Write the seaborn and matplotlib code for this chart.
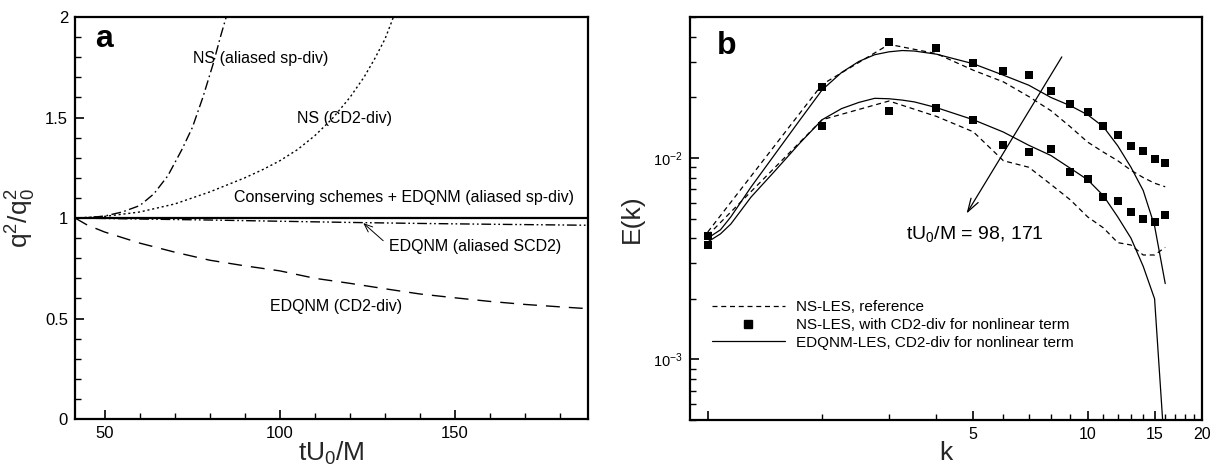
import matplotlib
matplotlib.use("Agg")
import matplotlib.pyplot as plt
from matplotlib.lines import Line2D
from matplotlib.ticker import MultipleLocator, FixedLocator, FixedFormatter, NullFormatter, LogLocator
import numpy as np
import pandas as pd
import seaborn as sns

# ---------------- Panel a data ----------------
t_ns_sp = [41.5, 46, 50, 55, 60, 64, 68, 72, 75, 78, 81, 83, 85, 86.5]
q_ns_sp = [1.0, 1.003, 1.01, 1.03, 1.062, 1.12, 1.21, 1.34, 1.45, 1.60, 1.77, 1.90, 2.02, 2.12]

t_ns_cd2 = [41.5, 50, 60, 70, 80, 90, 95, 100, 105, 110, 115, 120, 124, 127, 130, 132, 134]
q_ns_cd2 = [1.0, 1.008, 1.03, 1.07, 1.13, 1.20, 1.24, 1.285, 1.34, 1.41, 1.495, 1.60, 1.70, 1.79,
            1.89, 1.98, 2.08]

t_cons = [41.5, 188]
q_cons = [1.0, 1.0]

t_scd2 = [41.5, 60, 80, 100, 120, 140, 160, 188]
q_scd2 = [1.0, 0.995, 0.99, 0.984, 0.978, 0.973, 0.969, 0.964]

t_edq_cd2 = [41.5, 45, 50, 60, 70, 80, 90, 100, 110, 120, 130, 140, 150, 160, 170, 180, 187]
q_edq_cd2 = [1.0, 0.965, 0.93, 0.875, 0.83, 0.79, 0.762, 0.737, 0.70, 0.675, 0.648, 0.622,
             0.603, 0.585, 0.570, 0.558, 0.55]

# ---------------- Panel b data ----------------
k_int = [1, 2, 3, 4, 5, 6, 7, 8, 9, 10, 11, 12, 13, 14, 15, 16]
ref_98 = [0.00429, 0.0232, 0.0367, 0.0330, 0.0273, 0.0239, 0.0202, 0.0172, 0.0143, 0.0120,
          0.0107, 0.0097, 0.0087, 0.0080, 0.0075, 0.0072]
ref_171 = [0.00413, 0.0155, 0.0192, 0.0161, 0.0135, 0.0097, 0.0090, 0.0074, 0.0062, 0.0051,
           0.0045, 0.0038, 0.0037, 0.0033, 0.0033, 0.0036]
cd2_98 = [0.00411, 0.0225, 0.0378, 0.0353, 0.0297, 0.0271, 0.0259, 0.0215, 0.0185, 0.0169,
          0.0144, 0.0130, 0.0115, 0.0108, 0.00987, 0.00946]
cd2_171 = [0.00369, 0.0144, 0.0171, 0.0177, 0.0155, 0.0116, 0.0107, 0.0111, 0.00853, 0.00784,
           0.00639, 0.00610, 0.00538, 0.00498, 0.00481, 0.00519]

k_edq = [1, 1.08, 1.15, 1.3, 1.5, 1.75, 2, 2.25, 2.5, 2.75, 3, 3.25, 3.5, 4, 5, 6, 7, 8, 9, 10,
         11, 12, 13, 14, 15, 16]
edq_98 = [0.0040, 0.0044, 0.0051, 0.00718, 0.0104, 0.0155, 0.0218, 0.0266, 0.0302, 0.0326,
          0.0337, 0.0342, 0.0340, 0.0328, 0.0294, 0.0258, 0.0230, 0.0200, 0.0182, 0.0164,
          0.0143, 0.0115, 0.0090, 0.0069, 0.0046, 0.00238]
edq_171 = [0.00383, 0.0042, 0.0047, 0.0064, 0.0086, 0.0119, 0.0155, 0.0176, 0.0189, 0.0198,
           0.0197, 0.0194, 0.0190, 0.0178, 0.0155, 0.01346, 0.01157, 0.0103, 0.0089, 0.0078,
           0.0065, 0.0051, 0.0040, 0.0029, 0.0020, 0.00032]

legend_labels = ["NS-LES, reference",
                 "NS-LES, with CD2-div for nonlinear term",
                 "EDQNM-LES, CD2-div for nonlinear term"]

# ---------------- Style ----------------
sns.set_theme(style="white")
plt.rcParams["font.family"] = ["Liberation Sans", "DejaVu Sans"]
plt.rcParams["mathtext.fontset"] = "custom"
plt.rcParams["mathtext.rm"] = "Liberation Sans"
plt.rcParams["mathtext.it"] = "Liberation Sans:italic"
plt.rcParams["mathtext.bf"] = "Liberation Sans:bold"
plt.rcParams["axes.edgecolor"] = "black"
plt.rcParams["text.color"] = "black"
plt.rcParams["xtick.color"] = "black"
plt.rcParams["ytick.color"] = "black"

fig = plt.figure(figsize=(12.18, 4.65), dpi=100)
axa = fig.add_axes([0.0616, 0.0989, 0.4212, 0.8645])
axb = fig.add_axes([0.5665, 0.0968, 0.4204, 0.8667])

K = "black"

# ---------------- Panel a ----------------
sns.lineplot(x=t_ns_sp, y=q_ns_sp, ax=axa, color=K, lw=1.0, linestyle=(0, (7, 2.5, 1.2, 2.5)),
             estimator=None, sort=False)
sns.lineplot(x=t_ns_cd2, y=q_ns_cd2, ax=axa, color=K, lw=1.0, linestyle=(0, (1.5, 2)),
             estimator=None, sort=False)
sns.lineplot(x=t_cons, y=q_cons, ax=axa, color=K, lw=1.6, estimator=None, sort=False)
sns.lineplot(x=t_scd2, y=q_scd2, ax=axa, color=K, lw=1.0,
             linestyle=(0, (7, 2, 1.2, 2, 1.2, 2)), estimator=None, sort=False)
sns.lineplot(x=t_edq_cd2, y=q_edq_cd2, ax=axa, color=K, lw=1.0, linestyle=(0, (10, 6.5)),
             estimator=None, sort=False)

axa.set_xlim(41.5, 188)
axa.set_ylim(0, 2)
axa.xaxis.set_major_locator(FixedLocator([50, 100, 150]))
axa.xaxis.set_minor_locator(MultipleLocator(10))
axa.yaxis.set_major_locator(FixedLocator([0, 0.5, 1, 1.5, 2]))
axa.yaxis.set_major_formatter(FixedFormatter(["0", "0.5", "1", "1.5", "2"]))
axa.yaxis.set_minor_locator(MultipleLocator(0.1))
axa.set_xlabel("tU$_0$/M", fontsize=19, labelpad=-1)
axa.set_ylabel("q$^2$/q$_0^2$", fontsize=19, labelpad=5)

fs_ann = 11.5
axa.text(75.3, 1.792, "NS (aliased sp-div)", fontsize=fs_ann, ha="left", va="center")
axa.text(104.9, 1.493, "NS (CD2-div)", fontsize=fs_ann, ha="left", va="center")
axa.text(87.0, 1.101, "Conserving schemes + EDQNM (aliased sp-div)", fontsize=fs_ann,
         ha="left", va="center")
axa.text(131.2, 0.860, "EDQNM (aliased SCD2)", fontsize=fs_ann, ha="left", va="center")
axa.text(97.2, 0.561, "EDQNM (CD2-div)", fontsize=fs_ann, ha="left", va="center")
axa.annotate("", xy=(123.8, 0.975), xytext=(129.5, 0.887),
             arrowprops=dict(arrowstyle="->,head_length=0.5,head_width=0.2", lw=0.7, color=K,
                             shrinkA=0, shrinkB=0))
axa.text(0.04, 0.926, "a", transform=axa.transAxes, fontsize=23, fontweight="bold",
         ha="left", va="baseline")

# ---------------- Panel b ----------------
sns.lineplot(x=k_int, y=ref_98, ax=axb, color=K, lw=0.9, linestyle=(0, (4, 3)),
             estimator=None, sort=False)
sns.lineplot(x=k_int, y=ref_171, ax=axb, color=K, lw=0.9, linestyle=(0, (4, 3)),
             estimator=None, sort=False)
sns.lineplot(x=k_edq, y=edq_98, ax=axb, color=K, lw=0.9, estimator=None, sort=False)
sns.lineplot(x=k_edq, y=edq_171, ax=axb, color=K, lw=0.9, estimator=None, sort=False)
sns.scatterplot(x=k_int, y=cd2_98, ax=axb, color=K, marker="s", s=30, linewidth=0)
sns.scatterplot(x=k_int, y=cd2_171, ax=axb, color=K, marker="s", s=30, linewidth=0)

axb.set_xscale("log")
axb.set_yscale("log")
axb.set_xlim(0.898, 20)
axb.set_ylim(5e-4, 0.0502)
axb.xaxis.set_major_locator(FixedLocator([1, 5, 10, 15, 20]))
axb.xaxis.set_major_formatter(FixedFormatter(["", "5", "10", "15", "20"]))
axb.xaxis.set_minor_locator(FixedLocator([2, 3, 4, 6, 7, 8, 9, 11, 12, 13, 14, 16, 17, 18, 19]))
axb.xaxis.set_minor_formatter(NullFormatter())
axb.yaxis.set_major_locator(FixedLocator([1e-3, 1e-2]))
axb.yaxis.set_major_formatter(FixedFormatter(["$10^{-3}$", "$10^{-2}$"]))
axb.yaxis.set_minor_locator(LogLocator(base=10, subs=np.arange(2, 10)))
axb.yaxis.set_minor_formatter(NullFormatter())
axb.set_xlabel("k", fontsize=19, labelpad=-1)
axb.set_ylabel("E(k)", fontsize=19, labelpad=7)

axb.annotate("", xy=(4.80, 0.0053), xytext=(8.55, 0.0318),
             arrowprops=dict(arrowstyle="->,head_length=0.8,head_width=0.25", lw=0.9, color=K,
                             shrinkA=0, shrinkB=0))
axb.text(3.32, 0.0042, "tU$_0$/M = 98, 171", fontsize=14, ha="left", va="center")
axb.text(0.052, 0.908, "b", transform=axb.transAxes, fontsize=23, fontweight="bold",
         ha="left", va="baseline")

handles = [Line2D([], [], color=K, lw=0.9, linestyle=(0, (4, 3))),
           Line2D([], [], color=K, marker="s", linestyle="", markersize=6),
           Line2D([], [], color=K, lw=0.9)]
leg = axb.legend(handles, legend_labels, loc="center left", bbox_to_anchor=(0.042, 0.236),
                 frameon=False, fontsize=11, handlelength=4.8, handletextpad=0.7,
                 labelspacing=0.25, borderpad=0, borderaxespad=0)

# ---------------- Common axis styling ----------------
for ax in (axa, axb):
    for sp in ax.spines.values():
        sp.set_visible(True)
        sp.set_linewidth(1.6)
        sp.set_color(K)
    ax.tick_params(which="both", direction="in", top=False, right=False, bottom=True, left=True,
                   colors=K)
    ax.tick_params(which="major", length=6.5, width=1.2, pad=5)
    ax.tick_params(which="minor", length=4.5, width=1.0)
axa.tick_params(which="major", labelsize=12)
axb.tick_params(axis="x", which="major", labelsize=11.5)
axb.tick_params(axis="y", which="major", labelsize=10.5)

fig.savefig("out.png", dpi=100)
